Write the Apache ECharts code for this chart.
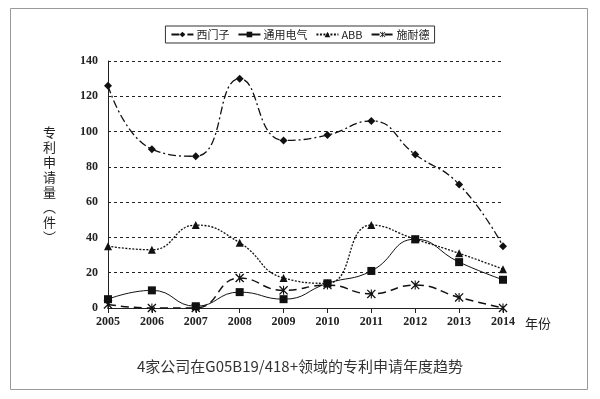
<!DOCTYPE html>
<html lang="zh">
<head>
    <meta charset="UTF-8">
    <title>专利申请年度趋势</title>
    <style>
        html, body { margin: 0; padding: 0; background: #fff; }
        #main { width: 600px; height: 399px; }
    </style>
</head>
<body>
    <div id="main"></div>
    <script src="https://cdn.jsdelivr.net/npm/echarts@6/dist/echarts.min.js"></script>
    <script>
        // 数据
        var years = ['2005', '2006', '2007', '2008', '2009', '2010', '2011', '2012', '2013', '2014'];
        var siemens = [126, 90, 86, 130, 95, 98, 106, 87, 70, 35];
        var ge = [5, 10, 1, 9, 5, 14, 21, 39, 26, 16];
        var abb = [35, 33, 47, 37, 17, 14, 47, 39, 31, 22];
        var schneider = [2, 0, 0, 17, 10, 13, 8, 13, 6, 0];
        var names = ['西门子', '通用电气', 'ABB', '施耐德'];

        // 星号标记
        var starPath = 'path://M0,1L1,0L10,9L9,10Z M9,0L10,1L1,10L0,9Z M4.4,0L5.6,0L5.6,10L4.4,10Z';

        var chart = echarts.init(document.getElementById('main'));

        var tickFont = {
            fontFamily: 'Liberation Serif',
            fontWeight: 'bold',
            fontSize: 12,
            color: '#222'
        };

        var option = {
            animation: false,
            backgroundColor: '#fff',
            title: {
                text: '4家公司在G05B19/418+领域的专利申请年度趋势',
                left: 'center',
                top: 354,
                textStyle: {
                    fontFamily: 'Noto Sans CJK SC',
                    fontWeight: 'normal',
                    fontSize: 15,
                    color: '#333'
                }
            },
            legend: {
                data: names,
                top: 26,
                left: 'center',
                borderColor: '#333',
                borderWidth: 1,
                padding: [3, 5],
                itemGap: 8,
                itemWidth: 22,
                itemHeight: 7,
                textStyle: {
                    fontFamily: 'Noto Sans CJK SC',
                    fontSize: 11,
                    color: '#222',
                    padding: [0, 0, 0, -2]
                }
            },
            grid: {
                left: 108,
                right: 97,
                top: 61,
                bottom: 91
            },
            xAxis: {
                type: 'category',
                data: years,
                boundaryGap: false,
                name: '年份',
                nameLocation: 'end',
                nameGap: 22,
                nameTextStyle: {
                    fontFamily: 'Noto Sans CJK SC',
                    fontSize: 13,
                    color: '#222',
                    verticalAlign: 'top',
                    padding: [9, 0, 0, 0]
                },
                axisLine: { lineStyle: { color: '#222', width: 1 } },
                axisTick: { show: true, length: 5, lineStyle: { color: '#222' } },
                axisLabel: Object.assign({ margin: 8 }, tickFont),
                splitLine: { show: false }
            },
            yAxis: {
                type: 'value',
                min: 0,
                max: 140,
                interval: 20,
                name: '专\n利\n申\n请\n量\n︵\n件\n︶',
                nameLocation: 'middle',
                nameRotate: 0,
                nameGap: 52,
                nameTextStyle: {
                    fontFamily: 'Noto Sans CJK SC',
                    fontSize: 13,
                    lineHeight: 15,
                    color: '#222'
                },
                axisLine: { show: true, lineStyle: { color: '#222', width: 1 } },
                axisTick: { show: false },
                axisLabel: Object.assign({ margin: 10 }, tickFont),
                splitLine: {
                    show: true,
                    lineStyle: { color: '#222', type: [3, 3], width: 1 }
                }
            },
            series: [{
                name: names[0],
                type: 'line',
                data: siemens,
                smooth: 0.5,
                symbol: 'diamond',
                symbolSize: 8,
                itemStyle: { color: '#111' },
                lineStyle: { color: '#111', width: 1.3, type: [8, 3, 2, 3] }
            }, {
                name: names[1],
                type: 'line',
                data: ge,
                smooth: 0.5,
                symbol: 'rect',
                symbolSize: 8,
                itemStyle: { color: '#111' },
                lineStyle: { color: '#111', width: 1, type: 'solid' }
            }, {
                name: names[2],
                type: 'line',
                data: abb,
                smooth: 0.5,
                symbol: 'triangle',
                symbolSize: 8,
                itemStyle: { color: '#111' },
                lineStyle: { color: '#111', width: 1.3, type: [2, 1.5] }
            }, {
                name: names[3],
                type: 'line',
                data: schneider,
                smooth: 0.5,
                symbol: starPath,
                symbolSize: 9,
                itemStyle: { color: '#111' },
                lineStyle: { color: '#111', width: 1.5, type: [8, 5] }
            }],
            graphic: [{
                type: 'rect',
                shape: { x: 10.5, y: 8.5, width: 577, height: 381 },
                style: { fill: 'none', stroke: '#999', lineWidth: 1 },
                silent: true
            }]
        };

        chart.setOption(option);
    </script>
</body>
</html>
